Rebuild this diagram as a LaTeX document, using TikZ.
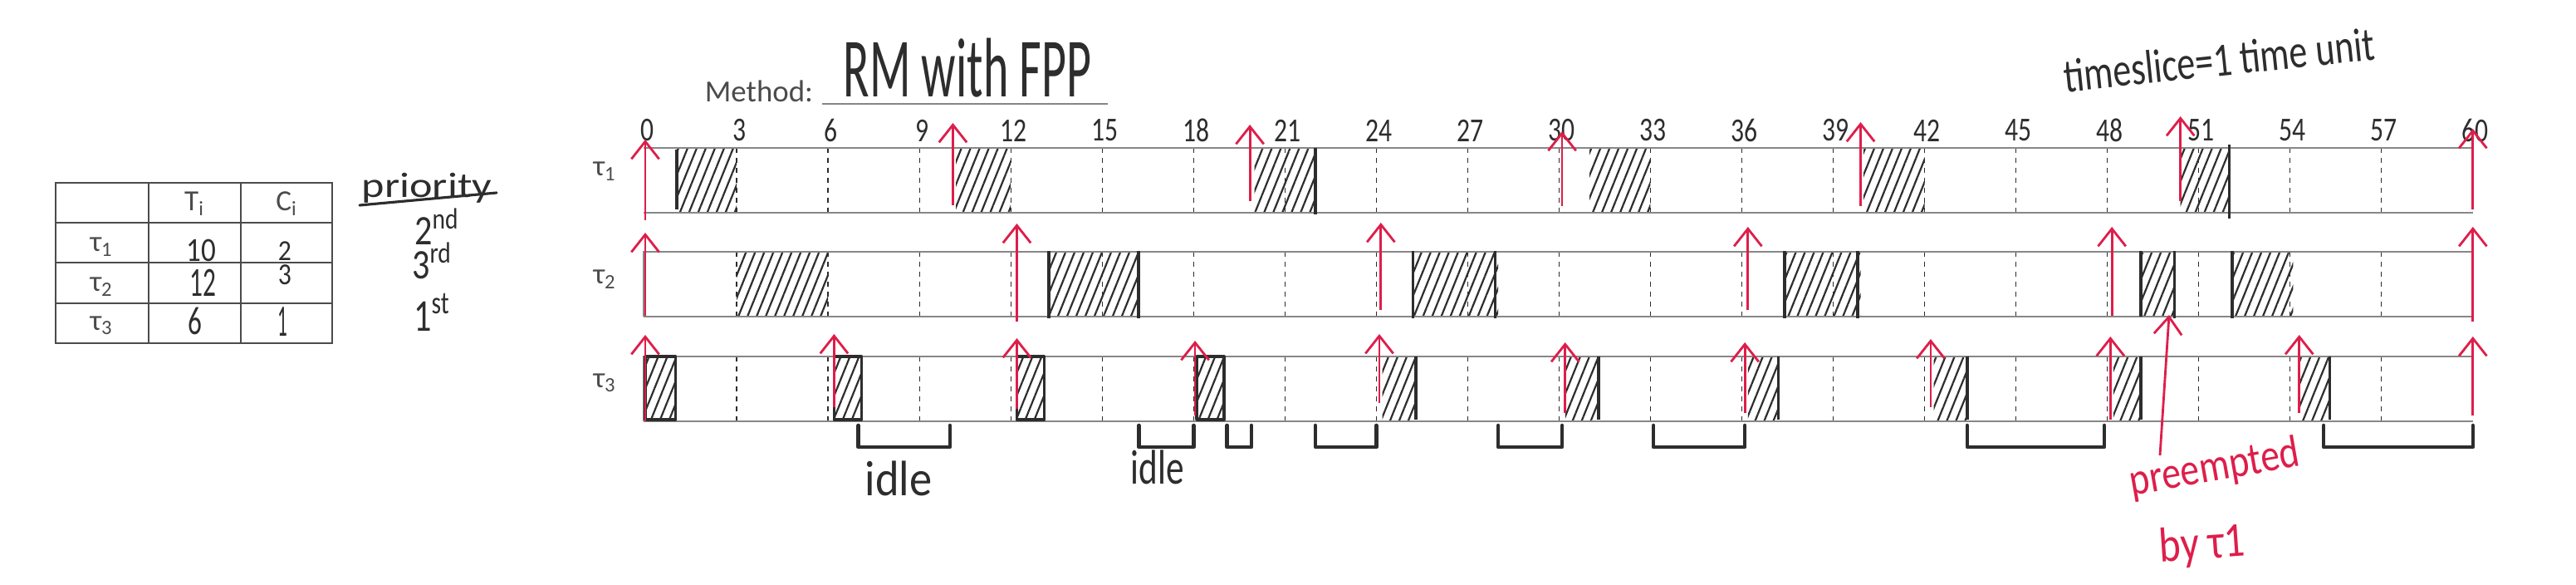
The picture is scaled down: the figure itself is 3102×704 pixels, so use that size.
\documentclass[tikz,border=0pt]{standalone}
\usepackage{fontspec}
\usepackage{graphicx}
\setmainfont{Carlito}
\usetikzlibrary{arrows.meta,patterns.meta}
\definecolor{pen}{RGB}{222,30,74}
\definecolor{ink}{RGB}{45,45,45}
\definecolor{rule}{RGB}{135,135,135}
\definecolor{print}{RGB}{75,75,75}
\pgfmathdeclarefunction{tx}{1}{\pgfmathparse{777+36.68*#1}}
\tikzset{
  rowline/.style={draw=rule, line width=1.1pt},
  gridline/.style={draw=ink, line width=0.7pt, dash pattern=on 3.4pt off 3.4pt},
  hatchfill/.style={pattern={Lines[angle=68,distance=5.8pt,line width=1.25pt]}, pattern color=ink},
  inkbar/.style={draw=ink, line width=2pt},
  bracketline/.style={draw=ink, line width=2.6pt, line join=round, line cap=round},
  relarrow/.style={draw=pen, line width=1.6pt, -{Straight Barb[length=12pt,width=19pt]}},
  ticklab/.style={font=\fontsize{20}{20}\selectfont, text=ink, inner sep=0pt},
  printlab/.style={font=\fontsize{20}{20}\selectfont, text=print, inner sep=0pt},
  hand/.style={text=ink, inner sep=0pt},
  redhand/.style={text=pen, inner sep=0pt},
}
\begin{document}
\begin{tikzpicture}[x=0.2mm,y=-0.2mm]
\useasboundingbox (0,0) rectangle (3102,704);
\fill[white] (0,0) rectangle (3102,704);

% ---------------- table ----------------
\draw[draw=print, line width=1.1pt] (67,220) rectangle (400,413);
\draw[draw=print, line width=1.1pt] (179,220) -- (179,413) (290,220) -- (290,413)
  (67,268) -- (400,268) (67,316) -- (400,316) (67,365) -- (400,365);
\node[printlab] (hT) at (234,245) {T\textsubscript{i}};
\node[printlab] (hC) at (345,245) {C\textsubscript{i}};
\node[printlab] (tt1) at (122,297) {τ\textsubscript{1}};
\node[printlab] (tt2) at (122,345) {τ\textsubscript{2}};
\node[printlab] (tt3) at (122,392) {τ\textsubscript{3}};
\node[hand] (v11) at (242,301) {\scalebox{0.95}[1.1]{\fontsize{21}{21}\selectfont 10}};
\node[hand] (v12) at (343,302) {\scalebox{0.95}[1.05]{\fontsize{19}{19}\selectfont 2}};
\node[hand] (v21) at (244,340) {\scalebox{0.85}[1.35]{\fontsize{21}{21}\selectfont 12}};
\node[hand] (v22) at (343,331) {\scalebox{0.95}[1.1]{\fontsize{19}{19}\selectfont 3}};
\node[hand] (v31) at (235,386) {\scalebox{0.9}[1.3]{\fontsize{21}{21}\selectfont 6}};
\node[hand] (v32) at (340,387) {\scalebox{0.6}[1.4]{\fontsize{22}{22}\selectfont 1}};

% priority column
\node[hand] (prio) at (514,226) {\scalebox{1.35}[1.1]{\fontsize{22}{22}\selectfont priority}};
\draw[draw=ink, line width=1.8pt, line cap=round] (433,247) -- (598,232);
\node[hand] (p2) at (526,273) {\scalebox{1}[1.2]{\fontsize{24}{24}\selectfont 2\textsuperscript{nd}}};
\node[hand] (p3) at (520,314) {\scalebox{1}[1.2]{\fontsize{24}{24}\selectfont 3\textsuperscript{rd}}};
\node[hand] (p1) at (520,376) {\scalebox{1}[1.3]{\fontsize{24}{24}\selectfont 1\textsuperscript{st}}};

% ---------------- headings ----------------
\node[printlab, font=\fontsize{21}{21}\selectfont] (meth) at (914,110) {Method:};
\draw[draw=rule, line width=1.1pt] (990,125) -- (1334,125);
\node[hand] (rm) at (1165,82) {\scalebox{1}[1.75]{\fontsize{33}{33}\selectfont RM with FPP}};
\node[hand, rotate=6] (slice) at (2672,72) {\scalebox{1}[1.3]{\fontsize{25}{25}\selectfont timeslice=1 time unit}};

% ---------------- row labels ----------------
\node[printlab] (r1) at (728,206) {τ\textsubscript{1}};
\node[printlab] (r2) at (728,336) {τ\textsubscript{2}};
\node[printlab] (r3) at (728,461) {τ\textsubscript{3}};

% ---------------- tick labels ----------------
\foreach \t in {0,3,...,60}{
  \node[ticklab] (lab\t) at ({tx(\t)+3},157) {\scalebox{0.9}[1.15]{\t}};
}

% ---------------- hatched execution blocks ----------------
\foreach \a/\b in {1/3, 10.2/12, 20/22, 31/33, 40/42, 50.4/52}
  \fill[hatchfill] ({tx(\a)},179) rectangle ({tx(\b)},255);
\foreach \a/\b in {3/6, 13.2/16.2, 25.2/28, 37.4/39.9, 49.1/50.2, 52.1/54.1}
  \fill[hatchfill] ({tx(\a)},304) rectangle ({tx(\b)},380);
\foreach \a/\b in {0/1, 6.2/7.1, 12.2/13.1, 18.1/19, 24.2/25.3, 30.2/31.3, 36.2/37.2, 42.3/43.4, 48.2/49.1, 54.3/55.3}
  \fill[hatchfill] ({tx(\a)},430) rectangle ({tx(\b)},506);

% ---------------- grid ----------------
\foreach \t in {3,6,...,57}{
  \draw[gridline] ({tx(\t)},178) -- ({tx(\t)},256);
  \draw[gridline] ({tx(\t)},303) -- ({tx(\t)},381);
  \draw[gridline] ({tx(\t)},429) -- ({tx(\t)},507);
}
\draw[rowline] (775,178) -- (2978,178) (775,256) -- (2978,256);
\draw[rowline] (775,381) -- (775,303) -- (2978,303) (775,381) -- (2978,381);
\draw[rowline] (775,507) -- (775,429) -- (2978,429) (775,507) -- (2978,507);

% ---------------- hand-drawn block edges ----------------
\draw[inkbar] ({tx(1.03)},180) -- ({tx(1.03)},252);
\draw[inkbar] ({tx(22)},178) -- ({tx(22)},258);
\draw[inkbar] ({tx(52)},174) -- ({tx(52)},263);
\foreach \t in {13.25,16.2,25.2,27.9,37.4,39.8,50.2,52.1}
  \draw[inkbar] ({tx(\t)},302) -- ({tx(\t)},383);
\draw[inkbar, line width=2.8pt] ({tx(49.1)},302) -- ({tx(49.1)},381);
\foreach \a/\b in {0/1, 6.2/7.1, 12.2/13.1, 18.1/19}
  \draw[inkbar, line join=round] ({tx(\a)},429) rectangle ({tx(\b)},505);
\foreach \t in {25.3,31.3,37.2,43.4,49.1,55.3}
  \draw[inkbar] ({tx(\t)},429) -- ({tx(\t)},505);

% ---------------- idle brackets ----------------
\foreach \a/\b in {7/10, 16.2/18, 19.1/19.9, 22/24, 28/30.1, 33.1/36.1, 43.4/47.9, 55.1/60}
  \draw[bracketline] ({tx(\a)},512) -- ({tx(\a)},538) -- ({tx(\b)},538) -- ({tx(\b)},512);
\node[hand] (idle1) at (1082,576) {\scalebox{1}[1.1]{\fontsize{31}{31}\selectfont idle}};
\node[hand] (idle2) at (1394,562) {\scalebox{0.85}[1.15]{\fontsize{29}{29}\selectfont idle}};

% ---------------- release arrows ----------------
\foreach \t/\yb/\yt in {0/265/168, 10.1/247/148, 19.85/242/150, 30.1/248/158, 39.9/248/147, 50.4/242/140, 60/252/155}
  \draw[relarrow] ({tx(\t)},\yb) -- ({tx(\t)},\yt);
\foreach \t/\yb/\yt in {0/380/280, 12.2/387/269, 24.15/373/268, 36.2/373/273, 48.15/380/273, 60/387/273}
  \draw[relarrow] ({tx(\t)},\yb) -- ({tx(\t)},\yt);
\foreach \t/\yb/\yt in {0/507/403, 6.2/490/402, 12.2/492/407, 18.05/500/410, 24.1/485/402, 30.2/497/412, 36.1/497/412, 42.2/490/408, 48.1/505/405, 54.3/497/403, 60/500/405}
  \draw[relarrow] ({tx(\t)},\yb) -- ({tx(\t)},\yt);

% ---------------- preemption note ----------------
\coordinate (pfoot) at (2601,548);
\coordinate (ptip) at (2612,379);
\draw[relarrow] (pfoot) -- (ptip);
\node[redhand, rotate=10] (pre) at (2667,564) {\scalebox{1}[1.2]{\fontsize{26}{26}\selectfont preempted}};
\node[redhand, rotate=4] (by) at (2652,657) {\scalebox{1}[1.2]{\fontsize{28}{28}\selectfont by τ1}};
\end{tikzpicture}
\end{document}
